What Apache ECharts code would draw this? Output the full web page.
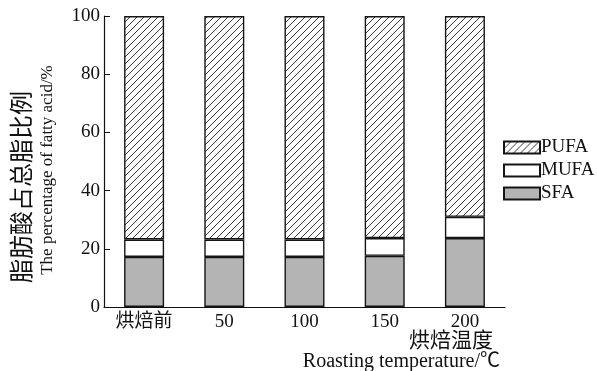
<!DOCTYPE html>
<html>
<head>
<meta charset="utf-8">
<script src="https://cdn.jsdelivr.net/npm/echarts@6/dist/echarts.min.js"></script>
<style>
  html, body { margin: 0; padding: 0; background: #fff; }
  #chart { width: 597px; height: 371px; }
</style>
</head>
<body>
<div id="chart"></div>
<script>
// Roasting temperature groups
const categories = ['烘焙前', '50', '100', '150', '200'];
// Share of total fatty acids, %
const sfa  = [17.2, 17.2, 17.2, 17.6, 23.7];
const mufa = [6.0, 6.0, 6.0, 6.1, 7.3];
const pufa = [76.8, 76.8, 76.8, 76.3, 69.0];
const yTicks = { min: 0, max: 100, interval: 20 };

const SERIF = '"Liberation Serif", "Times New Roman", "Noto Sans CJK SC", serif';
const CJK = '"Noto Sans CJK SC", "Liberation Serif", serif';

// Diagonal hatch tile for the PUFA segments
function makeHatch(size) {
  const c = document.createElement('canvas');
  c.width = size; c.height = size;
  const g = c.getContext('2d');
  g.fillStyle = '#fff';
  g.fillRect(0, 0, size, size);
  g.strokeStyle = '#222';
  g.lineWidth = 0.9;
  g.beginPath();
  g.moveTo(-1, size + 1); g.lineTo(size + 1, -1);
  g.moveTo(-1, 1); g.lineTo(1, -1);
  g.moveTo(size - 1, size + 1); g.lineTo(size + 1, size - 1);
  g.stroke();
  return c;
}
const hatch = makeHatch(7);

const chart = echarts.init(document.getElementById('chart'), null, { renderer: 'canvas' });

const border = { borderColor: '#151515', borderWidth: 1.4 };

chart.setOption({
  animation: false,
  backgroundColor: '#fff',
  grid: { left: 104, right: 92, top: 16, bottom: 64 },
  legend: {
    orient: 'vertical',
    left: 503, top: 138, padding: 0,
    itemWidth: 36, itemHeight: 12, itemGap: 4,
    icon: 'rect',
    data: ['PUFA', 'MUFA', 'SFA'],
    textStyle: { fontFamily: SERIF, fontSize: 19, color: '#111', padding: [0, 0, 0, -4] }
  },
  xAxis: {
    type: 'category',
    data: categories,
    boundaryGap: true,
    axisLine: { lineStyle: { color: '#111', width: 1.2 } },
    axisTick: { inside: true, length: 6, lineStyle: { color: '#111' } },
    axisLabel: { fontFamily: SERIF, fontSize: 19, color: '#111', margin: 6 }
  },
  yAxis: {
    type: 'value',
    min: yTicks.min, max: yTicks.max, interval: yTicks.interval,
    splitLine: { show: false },
    axisLine: { show: true, lineStyle: { color: '#111', width: 1.2 } },
    axisTick: { show: true, inside: true, length: 6, lineStyle: { color: '#111' } },
    axisLabel: { fontFamily: SERIF, fontSize: 19, color: '#111', margin: 4 }
  },
  graphic: [
    {
      type: 'text', x: 21, y: 187, rotation: Math.PI / 2,
      style: { text: '脂肪酸占总脂比例', fontFamily: CJK, fontSize: 24, fill: '#111',
               align: 'center', verticalAlign: 'middle' }
    },
    {
      type: 'text', x: 48, y: 170, rotation: Math.PI / 2,
      style: { text: 'The percentage of fatty acid/%', fontFamily: SERIF, fontSize: 17, fill: '#111',
               align: 'center', verticalAlign: 'middle' }
    },
    {
      type: 'text', x: 493, y: 339,
      style: { text: '烘焙温度', fontFamily: CJK, fontSize: 21, fill: '#111',
               align: 'right', verticalAlign: 'middle' }
    },
    {
      type: 'text', x: 500, y: 362,
      style: { text: 'Roasting temperature/℃', fontFamily: SERIF, fontSize: 20, fill: '#111',
               align: 'right', verticalAlign: 'middle' }
    }
  ],
  series: [
    { name: 'SFA', type: 'bar', stack: 'fa', barWidth: 40, data: sfa,
      itemStyle: Object.assign({ color: '#b4b4b4' }, border) },
    { name: 'MUFA', type: 'bar', stack: 'fa', barWidth: 40, data: mufa,
      itemStyle: Object.assign({ color: '#ffffff' }, border) },
    { name: 'PUFA', type: 'bar', stack: 'fa', barWidth: 40, data: pufa,
      itemStyle: Object.assign({ color: { image: hatch, repeat: 'repeat' } }, border) }
  ]
});
</script>
</body>
</html>
